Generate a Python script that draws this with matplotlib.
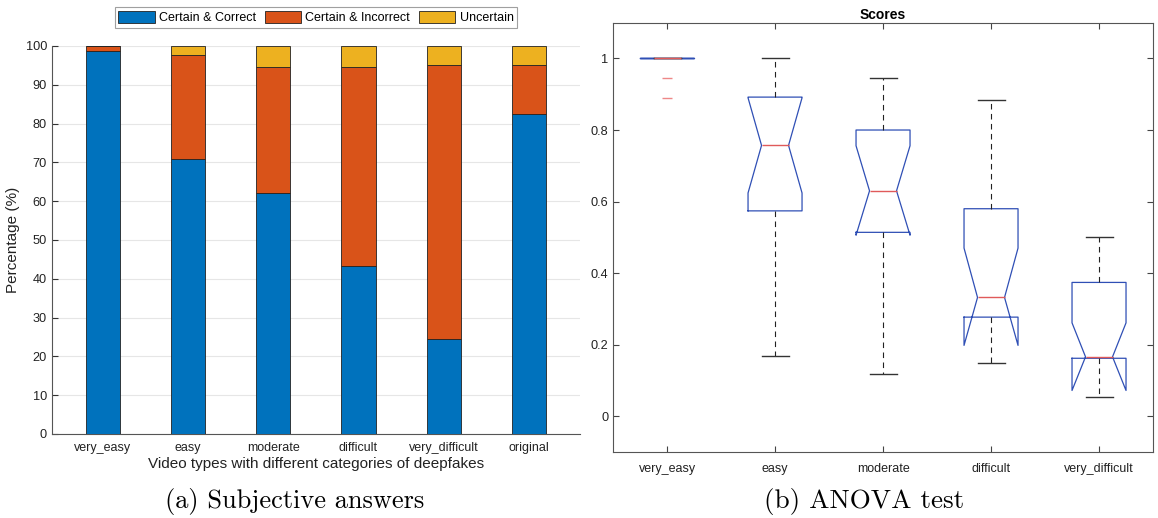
import matplotlib
matplotlib.use("Agg")
import matplotlib.pyplot as plt
import numpy as np

plt.rcParams['font.family'] = ['Liberation Sans', 'DejaVu Sans']

# (a) subjective answers, percent of answers per video type
video_types = ["very_easy", "easy", "moderate", "difficult", "very_difficult", "original"]
certain_correct = [98.8, 71.0, 62.2, 43.2, 24.5, 82.4]
certain_incorrect = [1.2, 26.8, 32.4, 51.4, 70.5, 12.7]
uncertain = [0.0, 2.2, 5.4, 5.4, 5.0, 4.9]
legend_labels = ["Certain & Correct", "Certain & Incorrect", "Uncertain"]

# (b) ANOVA test, box statistics
score_types = ["very_easy", "easy", "moderate", "difficult", "very_difficult"]
med = [1.0, 0.757, 0.630, 0.332, 0.166]
q1 = [1.0, 0.574, 0.514, 0.277, 0.162]
q3 = [1.0, 0.892, 0.800, 0.580, 0.374]
whislo = [1.0, 0.167, 0.118, 0.150, 0.054]
whishi = [1.0, 1.0, 0.944, 0.883, 0.500]
cilo = [1.0, 0.624, 0.506, 0.198, 0.072]
cihi = [1.0, 0.890, 0.756, 0.470, 0.261]
fliers = [[0.944, 0.889], [], [], [], []]

fig = plt.figure(figsize=(11.58, 5.18), dpi=100)

# ---- left: stacked bars
ax1 = fig.add_axes([0.0447, 0.1622, 0.4562, 0.749])
x = np.arange(1, len(video_types) + 1)
cols = ["#0072BD", "#D95319", "#EDB120"]
bottom = np.zeros(len(x))
for vals, c, lab in zip([certain_correct, certain_incorrect, uncertain], cols, legend_labels):
    ax1.bar(x, vals, 0.4, bottom=bottom, color=c, edgecolor="#222222", linewidth=0.6,
            label=lab, zorder=3)
    bottom += np.array(vals)
ax1.set_xlim(0.4, 6.6)
ax1.set_ylim(0, 100)
ax1.set_yticks(np.arange(0, 101, 10))
ax1.set_xticks(x)
ax1.set_xticklabels(video_types)
ax1.yaxis.grid(True, color="#e6e6e6", linewidth=0.8, zorder=0)
ax1.tick_params(axis="y", direction="in", length=4, labelsize=9.2, colors="#333333",
                labelcolor="#222222")
ax1.tick_params(axis="x", length=0, labelsize=9, labelcolor="#222222", pad=6)
for s in ["top", "right"]:
    ax1.spines[s].set_visible(False)
for s in ["left", "bottom"]:
    ax1.spines[s].set_color("#555555")
    ax1.spines[s].set_linewidth(0.8)
ax1.set_ylabel("Percentage (%)", fontsize=11, color="#222222", labelpad=4)
ax1.set_xlabel("Video types with different categories of deepfakes", fontsize=11,
               color="#222222", labelpad=2)
leg = ax1.legend(loc="upper center", bbox_to_anchor=(0.5, 1.1), ncol=3, fontsize=9,
                 frameon=True, fancybox=False, edgecolor="#888888", handlelength=2.9,
                 handleheight=1.1, columnspacing=0.7, handletextpad=0.35,
                 borderpad=0.3, borderaxespad=0)
leg.get_frame().set_linewidth(0.8)

# ---- right: notched boxplots
ax2 = fig.add_axes([0.5294, 0.1274, 0.4663, 0.8288])
stats = []
for i, name in enumerate(score_types):
    stats.append(dict(label=name, med=med[i], q1=q1[i], q3=q3[i],
                      whislo=whislo[i], whishi=whishi[i],
                      cilo=cilo[i], cihi=cihi[i], fliers=fliers[i]))
ax2.bxp(stats, positions=np.arange(1, 6), widths=0.5, capwidths=0.25,
        shownotches=True, showfliers=True,
        boxprops=dict(color="#2f4fb5", linewidth=0.9),
        medianprops=dict(color="#e05a5a", linewidth=1.0),
        whiskerprops=dict(color="#222222", linewidth=0.8, linestyle=(0, (5, 4))),
        capprops=dict(color="#333333", linewidth=1.0),
        flierprops=dict(marker="_", markeredgecolor="#ee8888", markersize=7,
                        markeredgewidth=1.0))
ax2.set_xlim(0.5, 5.5)
ax2.set_ylim(-0.1, 1.1)
ax2.set_yticks([0, 0.2, 0.4, 0.6, 0.8, 1.0])
ax2.set_yticklabels(["0", "0.2", "0.4", "0.6", "0.8", "1"])
ax2.tick_params(direction="in", length=4, labelsize=9.2, colors="#444444",
                labelcolor="#222222", top=True, right=True)
ax2.tick_params(axis="x", labelsize=9, pad=8)
for s in ax2.spines.values():
    s.set_color("#555555")
    s.set_linewidth(0.8)
ax2.set_title("Scores", fontsize=10, fontweight="bold", pad=3)

# captions
fig.text(0.254, 0.031, "(a) Subjective answers", family="cmr10", fontsize=19,
         ha="center", va="center")
fig.text(0.746, 0.031, "(b) ANOVA test", family="cmr10", fontsize=19.5,
         ha="center", va="center")

fig.savefig("out.png", dpi=100)
